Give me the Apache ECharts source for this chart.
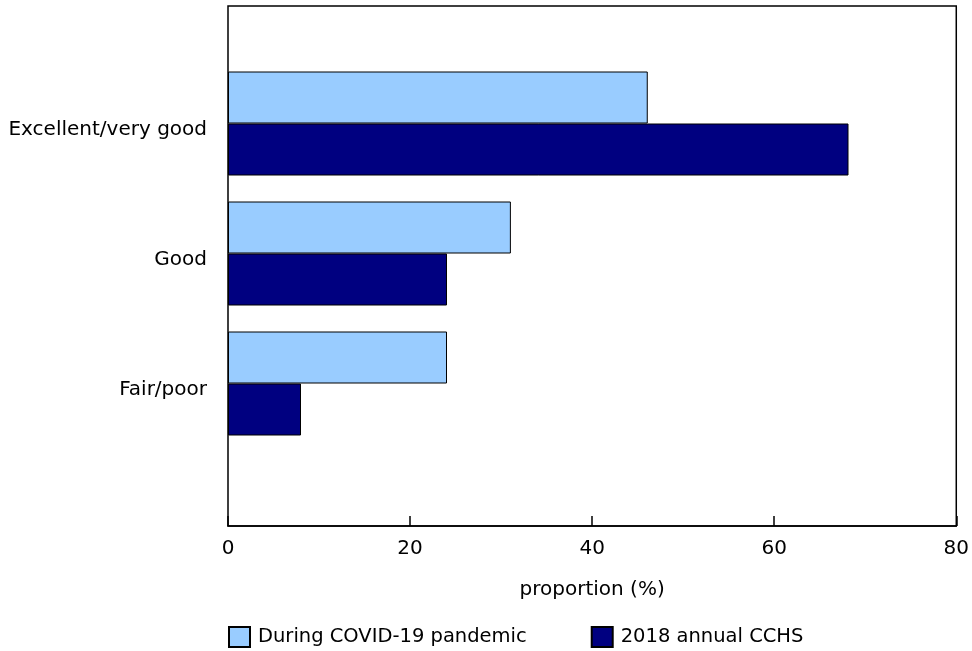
<!DOCTYPE html>
<html>
<head>
<meta charset="utf-8">
<script src="https://cdn.jsdelivr.net/npm/echarts@6/dist/echarts.min.js"></script>
<style>
html,body{margin:0;padding:0;background:#fff;}
#chart{width:972px;height:651px;}
</style>
</head>
<body>
<div id="chart"></div>
<script>
var categories = ['Excellent/very good', 'Good', 'Fair/poor'];
var duringCovid = [46, 31, 24];
var annual2018 = [68, 24, 8];
var xTicks = [0, 20, 40, 60, 80];
var seriesNames = ['During COVID-19 pandemic', '2018 annual CCHS'];

var font = 'DejaVu Sans, Verdana, sans-serif';
var chart = echarts.init(document.getElementById('chart'));
chart.setOption({
  animation: false,
  textStyle: { fontFamily: font },
  grid: [
    { left: 228, right: 14, top: 58.5, height: 390 },
    { left: 228, right: 14, top: 6, bottom: 125, show: true, borderColor: '#000', borderWidth: 1.5 }
  ],
  legend: {
    left: 228, top: 626, padding: 0,
    itemWidth: 21, itemHeight: 20, itemGap: 64,
    icon: 'rect',
    textStyle: { fontFamily: font, fontSize: 19.5, color: '#000', padding: [0, 0, 0, 3] },
    data: seriesNames
  },
  xAxis: [
    { gridIndex: 0, type: 'value', min: xTicks[0], max: xTicks[xTicks.length - 1], interval: 20, show: false },
    {
      gridIndex: 1, type: 'value', min: xTicks[0], max: xTicks[xTicks.length - 1], interval: 20,
      name: 'proportion (%)', nameLocation: 'middle', nameGap: 54,
      nameTextStyle: { fontFamily: font, fontSize: 20, color: '#000' },
      axisLine: { show: true, lineStyle: { color: '#000', width: 1.5 } },
      axisTick: { show: true, inside: true, length: 10, lineStyle: { color: '#000', width: 1.5 } },
      axisLabel: { fontFamily: font, fontSize: 20, color: '#000', margin: 13 },
      splitLine: { show: false }
    }
  ],
  yAxis: [
    {
      gridIndex: 0, type: 'category', data: categories, inverse: true,
      axisLine: { show: false }, axisTick: { show: false },
      axisLabel: { fontFamily: font, fontSize: 20, color: '#000', margin: 21, verticalAlign: 'top', lineHeight: 12 }
    },
    {
      gridIndex: 1, type: 'value', min: 0, max: 1,
      axisLine: { show: false }, axisTick: { show: false }, axisLabel: { show: false }, splitLine: { show: false }
    }
  ],
  series: [
    {
      name: seriesNames[0], type: 'bar', xAxisIndex: 0, yAxisIndex: 0,
      data: duringCovid, barWidth: 52, barGap: '0%',
      itemStyle: { color: '#99CCFF', borderColor: '#000', borderWidth: 1 }
    },
    {
      name: seriesNames[1], type: 'bar', xAxisIndex: 0, yAxisIndex: 0,
      data: annual2018, barWidth: 52, barGap: '0%',
      itemStyle: { color: '#000080', borderColor: '#000', borderWidth: 1 }
    }
  ]
});
</script>
</body>
</html>
